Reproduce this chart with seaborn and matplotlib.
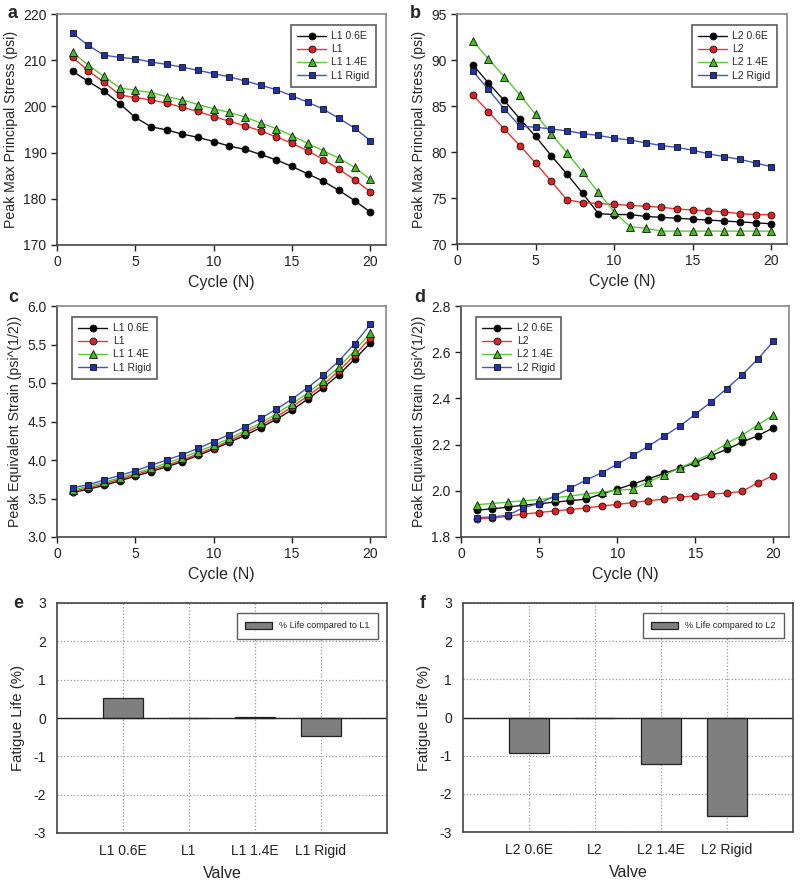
import numpy as np
import pandas as pd
import matplotlib
matplotlib.use("Agg")
import matplotlib.pyplot as plt
import seaborn as sns

# ---- data ----
cycles = list(range(1, 21))

# a: L1 peak max principal stress (psi)
a_06 = [207.6, 205.4, 203.3, 200.6, 197.6, 195.6, 194.9, 194.0, 193.3, 192.4,
        191.4, 190.7, 189.6, 188.4, 187.0, 185.4, 183.8, 181.8, 179.6, 177.1]
a_base = [210.6, 207.7, 205.2, 202.5, 201.9, 201.4, 200.7, 199.8, 198.9, 197.8,
          196.8, 195.8, 194.7, 193.4, 192.0, 190.4, 188.5, 186.4, 184.1, 181.5]
a_14 = [211.7, 208.9, 206.5, 204.0, 203.5, 203.0, 202.1, 201.4, 200.4, 199.5,
        198.7, 197.7, 196.4, 195.2, 193.7, 192.0, 190.4, 188.8, 186.8, 184.2]
a_rigid = [215.8, 213.2, 211.1, 210.6, 210.3, 209.6, 209.1, 208.5, 207.8, 207.1,
           206.4, 205.5, 204.6, 203.6, 202.3, 200.9, 199.4, 197.4, 195.3, 192.6]

# b: L2 peak max principal stress (psi)
b_06 = [89.5, 87.5, 85.6, 83.6, 81.7, 79.6, 77.6, 75.5, 73.3, 73.2,
        73.2, 73.0, 72.9, 72.8, 72.7, 72.6, 72.5, 72.4, 72.3, 72.2]
b_base = [86.2, 84.4, 82.5, 80.7, 78.8, 76.8, 74.8, 74.5, 74.4, 74.3,
          74.2, 74.1, 74.0, 73.8, 73.7, 73.6, 73.5, 73.3, 73.2, 73.2]
b_14 = [92.1, 90.1, 88.2, 86.2, 84.1, 82.0, 79.9, 77.8, 75.6, 73.5,
        71.9, 71.7, 71.4, 71.4, 71.4, 71.4, 71.4, 71.4, 71.4, 71.4]
b_rigid = [88.8, 86.8, 84.7, 82.8, 82.7, 82.5, 82.3, 82.0, 81.8, 81.5,
           81.3, 81.0, 80.7, 80.5, 80.2, 79.8, 79.5, 79.2, 78.8, 78.4]

# c: L1 peak equivalent strain
c_06 = [3.58, 3.62, 3.67, 3.73, 3.79, 3.85, 3.91, 3.98, 4.06, 4.14,
        4.23, 4.32, 4.42, 4.53, 4.65, 4.79, 4.94, 5.11, 5.31, 5.52]
c_base = [3.59, 3.64, 3.69, 3.75, 3.81, 3.87, 3.93, 4.00, 4.08, 4.16,
          4.25, 4.35, 4.45, 4.56, 4.69, 4.83, 4.98, 5.16, 5.36, 5.59]
c_14 = [3.61, 3.66, 3.71, 3.77, 3.83, 3.89, 3.96, 4.03, 4.11, 4.19,
        4.28, 4.38, 4.48, 4.60, 4.73, 4.87, 5.03, 5.21, 5.42, 5.65]
c_rigid = [3.64, 3.68, 3.74, 3.80, 3.86, 3.93, 4.00, 4.07, 4.15, 4.24,
           4.33, 4.43, 4.54, 4.66, 4.79, 4.94, 5.10, 5.29, 5.51, 5.76]

# d: L2 peak equivalent strain
d_06 = [1.916, 1.922, 1.929, 1.938, 1.944, 1.951, 1.957, 1.964, 1.986, 2.007,
        2.029, 2.052, 2.075, 2.098, 2.121, 2.152, 2.179, 2.211, 2.238, 2.273]
d_base = [1.879, 1.882, 1.890, 1.899, 1.906, 1.913, 1.919, 1.926, 1.934, 1.941,
          1.949, 1.957, 1.964, 1.973, 1.978, 1.986, 1.990, 1.997, 2.035, 2.066]
d_14 = [1.940, 1.945, 1.951, 1.957, 1.962, 1.970, 1.977, 1.987, 1.994, 2.003,
        2.007, 2.039, 2.068, 2.098, 2.130, 2.161, 2.205, 2.241, 2.285, 2.327]
d_rigid = [1.884, 1.887, 1.894, 1.927, 1.945, 1.978, 2.012, 2.046, 2.078, 2.115,
           2.153, 2.193, 2.237, 2.280, 2.331, 2.384, 2.442, 2.502, 2.570, 2.647]

# e / f: fatigue life relative to baseline (%)
e_valves = ["L1 0.6E", "L1", "L1 1.4E", "L1 Rigid"]
e_life = [0.51, 0.0, 0.02, -0.46]
f_valves = ["L2 0.6E", "L2", "L2 1.4E", "L2 Rigid"]
f_life = [-0.92, 0.0, -1.22, -2.57]

# ---- styling ----
sns.set_theme(style="white")
plt.rcParams["font.family"] = ["Liberation Sans", "DejaVu Sans"]
plt.rcParams["axes.edgecolor"] = "#444444"
plt.rcParams["axes.linewidth"] = 1.2
plt.rcParams["axes.unicode_minus"] = False

line_cols = ["#111111", "#ee3333", "#55cc33", "#4455bb"]
face_cols = ["#000000", "#dd2222", "#44bb22", "#2233aa"]
mks = ["o", "o", "^", "s"]

fig = plt.figure(figsize=(8.0, 8.83), dpi=100)
W, H = 800, 883


def add_ax(l, t, r, b):
    return fig.add_axes([l / W, 1 - b / H, (r - l) / W, (b - t) / H])


def letter(x, y, s):
    fig.text(x / W, 1 - y / H, s, fontsize=13, fontweight="bold",
             va="center", ha="left")


def line_panel(ax, prefix, series, ylim, yticks, yfmt, ylabel, loc):
    names = [f"{prefix} 0.6E", prefix, f"{prefix} 1.4E", f"{prefix} Rigid"]
    df = pd.DataFrame({
        "cycle": cycles * 4,
        "value": sum(series, []),
        "valve": sum([[n] * len(cycles) for n in names], []),
    })
    for i, n in enumerate(names):
        sub = df[df["valve"] == n]
        sns.lineplot(data=sub, x="cycle", y="value", ax=ax, color=line_cols[i],
                     lw=1.0, marker=mks[i], markersize=5 if mks[i] != "^" else 5.2,
                     markerfacecolor=face_cols[i], markeredgecolor="#111111",
                     markeredgewidth=0.6, label=n)
    ax.set_xlim(0, 21)
    ax.set_xticks([0, 5, 10, 15, 20])
    ax.set_ylim(*ylim)
    ax.set_yticks(yticks)
    ax.set_yticklabels([yfmt.format(v) for v in yticks])
    ax.set_xlabel("Cycle (N)", fontsize=11.5, labelpad=4)
    ax.set_ylabel(ylabel, fontsize=10.2, labelpad=4)
    ax.tick_params(direction="out", length=4, width=1, labelsize=10,
                   colors="#222222", bottom=True, left=True)
    for s in ["top", "right"]:
        ax.spines[s].set_color("#888888")
    leg = ax.legend(loc=loc, fontsize=7.5, frameon=True, fancybox=False,
                    edgecolor="#333333", handlelength=2.8, borderpad=0.6,
                    labelspacing=0.3, handletextpad=0.5,
                    bbox_to_anchor=(0.985, 0.975) if loc == "upper right" else (0.03, 0.975))
    leg.get_frame().set_linewidth(1.2)


def bar_panel(ax, valves, life, base):
    df = pd.DataFrame({"valve": valves, "life": life})
    sns.barplot(data=df, x="valve", y="life", ax=ax, color="#7f7f7f",
                edgecolor="#222222", linewidth=0.9, width=0.62,
                label=f"% Life compared to {base}", saturation=1)
    ax.grid(True, axis="both", ls=":", color="#999999", lw=0.9)
    ax.set_axisbelow(True)
    ax.axhline(0, color="#222222", lw=1.0)
    ax.set_xlim(-1, 4)
    ax.set_ylim(-3, 3)
    ax.set_yticks([-3, -2, -1, 0, 1, 2, 3])
    ax.set_xlabel("Valve", fontsize=11.5, labelpad=6)
    ax.set_ylabel("Fatigue Life (%)", fontsize=10.8, labelpad=6)
    ax.tick_params(direction="out", length=0, labelsize=10, colors="#222222",
                   pad=8)
    leg = ax.legend(loc="upper right", fontsize=6.5, frameon=True, fancybox=False,
                    edgecolor="#333333", handlelength=3.0, handleheight=0.9,
                    borderpad=0.9, bbox_to_anchor=(0.985, 0.975))
    leg.get_frame().set_linewidth(1.0)


ax_a = add_ax(57, 14, 386, 245)
line_panel(ax_a, "L1", [a_06, a_base, a_14, a_rigid], (170, 220),
           [170, 180, 190, 200, 210, 220], "{:.0f}",
           "Peak Max Principal Stress (psi)", "upper right")
letter(8, 14, "a")

ax_b = add_ax(457, 14, 787, 244)
line_panel(ax_b, "L2", [b_06, b_base, b_14, b_rigid], (70, 95),
           [70, 75, 80, 85, 90, 95], "{:.0f}",
           "Peak Max Principal Stress (psi)", "upper right")
letter(410, 14, "b")

ax_c = add_ax(57, 306, 386, 537)
line_panel(ax_c, "L1", [c_06, c_base, c_14, c_rigid], (3.0, 6.0),
           [3.0, 3.5, 4.0, 4.5, 5.0, 5.5, 6.0], "{:.1f}",
           "Peak Equivalent Strain (psi^(1/2))", "upper left")
letter(8, 298, "c")

ax_d = add_ax(461, 306, 789, 537)
line_panel(ax_d, "L2", [d_06, d_base, d_14, d_rigid], (1.8, 2.8),
           [1.8, 2.0, 2.2, 2.4, 2.6, 2.8], "{:.1f}",
           "Peak Equivalent Strain (psi^(1/2))", "upper left")
letter(414, 298, "d")

ax_e = add_ax(57, 603, 387, 833)
bar_panel(ax_e, e_valves, e_life, "L1")
letter(13, 604, "e")

ax_f = add_ax(463, 603, 793, 832)
bar_panel(ax_f, f_valves, f_life, "L2")
letter(420, 604, "f")

fig.savefig("out.png", dpi=100)
